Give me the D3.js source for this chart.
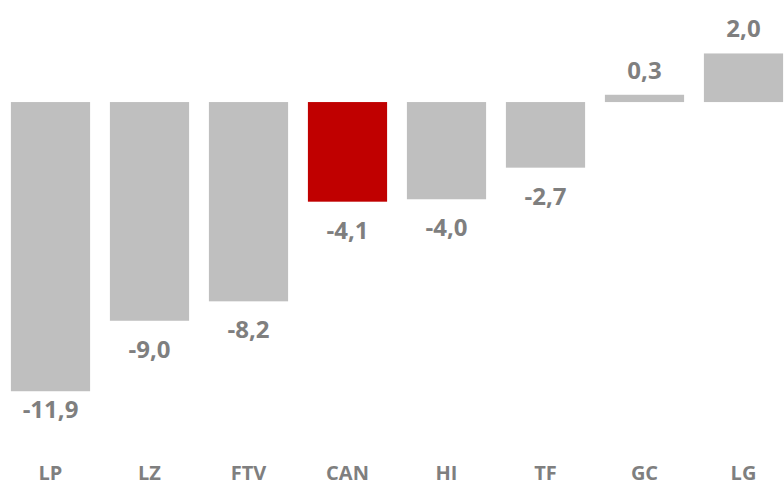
<!DOCTYPE html>
<html>
<head>
<meta charset="utf-8">
<script src="https://cdn.jsdelivr.net/npm/d3@7"></script>
<style>
  html, body { margin: 0; padding: 0; background: #ffffff; }
  svg { display: block; }
</style>
</head>
<body>
<div class="chart"></div>
<script>
// data
var categories = ["LP", "LZ", "FTV", "CAN", "HI", "TF", "GC", "LG"];
var values = [-11.9, -9.0, -8.2, -4.1, -4.0, -2.7, 0.3, 2.0];
var highlight = ["CAN"];

var width = 784;
var height = 486;

var svg = d3.select('.chart')
    .append('svg')
    .attr('width', width)
    .attr('height', height);

//band scale for the categories
var x = d3.scaleBand()
    .domain(categories)
    .range([1, 793])
    .paddingInner(0.2)
    .paddingOuter(0.1);

//linear scale, zero sits near the top
var y = d3.scaleLinear()
    .domain([-15.8, 4.2])
    .range([height, 0]);

var rows = categories.map(function(c, i) {
    return { name: c, value: values[i] };
});

var fmt = function(v) {
    return d3.format('.1f')(v).replace('.', ',').replace('−', '-');
};

//bars
svg.selectAll('.bar')
    .data(rows)
    .enter()
    .append('rect')
    .attr('class', 'bar')
    .attr('x', function(d) { return x(d.name); })
    .attr('width', x.bandwidth())
    .attr('y', function(d) { return y(Math.max(0, d.value)); })
    .attr('height', function(d) { return Math.abs(y(d.value) - y(0)); })
    .attr('fill', function(d) {
        return highlight.indexOf(d.name) >= 0 ? '#c00000' : '#bfbfbf';
    });

//value labels, below negative bars and above positive ones
svg.selectAll('.value')
    .data(rows)
    .enter()
    .append('text')
    .attr('class', 'value')
    .attr('x', function(d) { return x(d.name) + x.bandwidth() / 2; })
    .attr('y', function(d) {
        if (d.value < 0) return Math.min(y(d.value) + 37, 418);
        return y(d.value) - 16;
    })
    .attr('text-anchor', 'middle')
    .attr('font-family', 'Open Sans, sans-serif')
    .attr('font-weight', 'bold')
    .attr('font-size', '24px')
    .attr('fill', '#7f7f7f')
    .text(function(d) { return fmt(d.value); });

//category labels along the bottom
svg.selectAll('.cat')
    .data(categories)
    .enter()
    .append('text')
    .attr('class', 'cat')
    .attr('x', function(d) { return x(d) + x.bandwidth() / 2; })
    .attr('y', 480)
    .attr('text-anchor', 'middle')
    .attr('font-family', 'Open Sans, sans-serif')
    .attr('font-weight', 'bold')
    .attr('font-size', '20px')
    .attr('fill', '#7f7f7f')
    .text(function(d) { return d; });
</script>
</body>
</html>
